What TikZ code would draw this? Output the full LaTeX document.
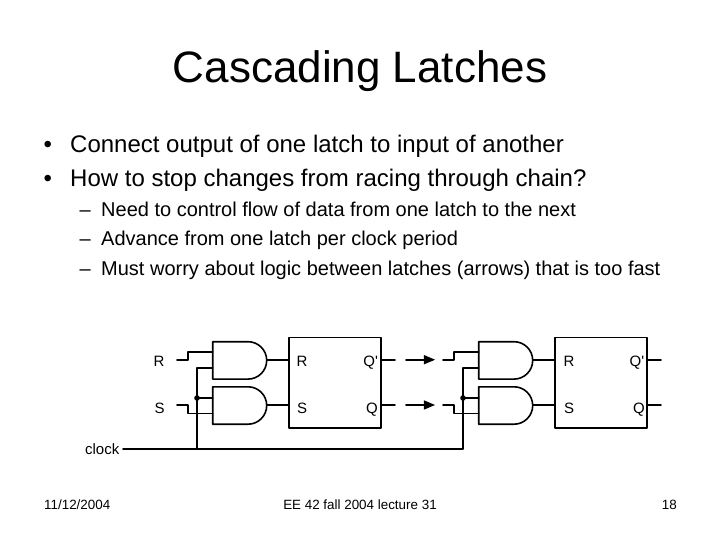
\documentclass[tikz,border=0pt]{standalone}
\usepackage{fontspec}
\setmainfont{Liberation Sans}
\usetikzlibrary{arrows}
\tikzset{
	wire/.style={line width=1.6pt},
	latchbox/.style={draw,line width=1.6pt,minimum width=92pt,minimum height=90.5pt,inner sep=0pt},
	lab/.style={font=\fontsize{15}{15}\selectfont,inner sep=0pt,anchor=base},
	foot/.style={font=\fontsize{13.4}{14}\selectfont,inner sep=0pt,anchor=base},
	bigline/.style={font=\fontsize{24}{24}\selectfont,inner sep=0pt,anchor=base west},
	subline/.style={font=\fontsize{20}{20}\selectfont,inner sep=0pt,anchor=base west},
}
\newcommand{\andgate}[2]{%
	\draw[wire] (#1,#2-18.7) -- (#1+35.3,#2-18.7) arc (90:-90:18.7pt) -- (#1,#2+18.7) -- cycle;}
\begin{document}
\begin{tikzpicture}[x=1pt,y=-1pt,line cap=round,line join=round,>=triangle 45]
	\useasboundingbox (0,0) rectangle (720,540);
	
	\node (title) [font=\fontsize{44}{44}\selectfont,inner sep=0pt,anchor=base] at (360,82.5) {Cascading Latches};
	
	\node (b1) [bigline] at (43.3,153) {•};
	\node (t1) [bigline] at (70,153) {Connect output of one latch to input of another};
	\node (b2) [bigline] at (43.3,187) {•};
	\node (t2) [bigline] at (70,187) {How to stop changes from racing through chain?};
	
	\node (d1) [subline] at (79.5,217) {–};
	\node (s1) [subline] at (101,217) {Need to control flow of data from one latch to the next};
	\node (d2) [subline] at (79.5,245.5) {–};
	\node (s2) [subline] at (101,245.5) {Advance from one latch per clock period};
	\node (d3) [subline] at (79.5,275) {–};
	\node (s3) [subline] at (101,275) {Must worry about logic between latches (arrows) that is too fast};
	
	% first stage
	\andgate{212.7}{360.4}
	\andgate{212.7}{405.5}
	\node (boxa) [latchbox] at (334.7,382.9) {};
	\node (ra) [lab] at (159,366) {R};
	\node (sa) [lab] at (159.7,413) {S};
	\node (rina) [lab] at (302,366) {R};
	\node (sina) [lab] at (302,413) {S};
	\node (qna) [lab] at (370.7,366) {Q\textquotesingle};
	\node (qa) [lab] at (372,413) {Q};
	
	% second stage
	\andgate{478.7}{360.4}
	\andgate{478.7}{405.5}
	\node (boxb) [latchbox] at (601,382.9) {};
	\node (rinb) [lab] at (569,366) {R};
	\node (sinb) [lab] at (569,413) {S};
	\node (qnb) [lab] at (637,366) {Q\textquotesingle};
	\node (qb) [lab] at (639,413) {Q};
	
	\node (clk) [lab,anchor=base east] at (119.5,454.3) {clock};
	\node (date) [foot,anchor=base west] at (44,509.3) {11/12/2004};
	\node (foot) [foot] at (360,509.3) {EE 42 fall 2004 lecture 31};
	\node (num) [foot,anchor=base east] at (677,509.3) {18};
	
	% wires of the first stage
	\coordinate (ca) at (197,448.7);
	\coordinate (da) at (197,398);
	\draw[wire] (177,359.7) -- (188,359.7) -- (188,352) -- (212.7,352);
	\draw[wire] (177,405) -- (188,405) -- (188,413.3) -- (212.7,413.3);
	\draw[wire] (ca) -- (197,367.7) -- (212.7,367.7);
	\draw[wire] (da) -- (212.7,398);
	\fill (da) circle (2.8);
	\draw[wire] (266.7,359.7) -- (boxa.west |- 0,359.7);
	\draw[wire] (266.7,405) -- (boxa.west |- 0,405);
	\draw[wire] (boxa.east |- 0,359.7) -- (395,359.7);
	\draw[wire] (boxa.east |- 0,405) -- (395,405);
	
	% arrows between the stages
	\draw[wire,->] (406,359.7) -- (435,359.7);
	\draw[wire,->] (406,405) -- (435,405);
	
	% wires of the second stage
	\coordinate (cb) at (463,448.7);
	\coordinate (db) at (463,398);
	\draw[wire] (443,359.7) -- (454,359.7) -- (454,352) -- (478.7,352);
	\draw[wire] (443,405) -- (454,405) -- (454,413.3) -- (478.7,413.3);
	\draw[wire] (cb) -- (463,367.7) -- (478.7,367.7);
	\draw[wire] (db) -- (478.7,398);
	\fill (db) circle (2.8);
	\draw[wire] (533,359.7) -- (boxb.west |- 0,359.7);
	\draw[wire] (533,405) -- (boxb.west |- 0,405);
	\draw[wire] (boxb.east |- 0,359.7) -- (661,359.7);
	\draw[wire] (boxb.east |- 0,405) -- (661,405);
	
	% clock line
	\draw[wire] (123,448.7) -- (ca) -- (cb);
\end{tikzpicture}
\end{document}
